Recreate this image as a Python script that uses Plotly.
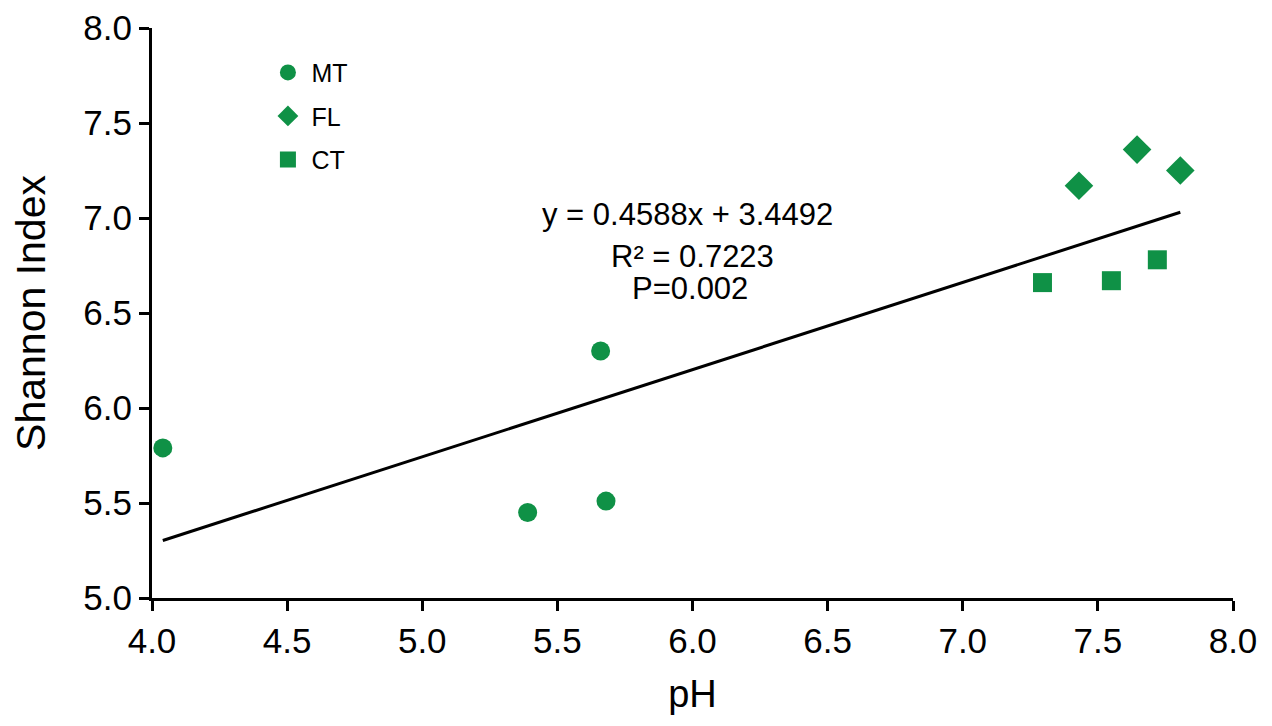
import numpy as np
import plotly.graph_objects as go

# pH / Shannon index per site type
mt_ph = [4.04, 5.66, 5.39, 5.68]
mt_shannon = [5.79, 6.30, 5.45, 5.51]
fl_ph = [7.43, 7.645, 7.805]
fl_shannon = [7.17, 7.36, 7.25]
ct_ph = [7.295, 7.55, 7.72]
ct_shannon = [6.66, 6.67, 6.78]

# regression reported on the figure
slope = 0.4588
intercept = 3.4492
r2_text = "R² = 0.7223"
p_text = "P=0.002"

green = "#0f9146"
font = "Liberation Sans, Arial, sans-serif"

fig = go.Figure()

fig.add_trace(go.Scatter(x=mt_ph, y=mt_shannon, mode="markers", name="MT", legendgroup="MT",
                         marker=dict(symbol="circle", size=19, color=green)))
fig.add_trace(go.Scatter(x=fl_ph, y=fl_shannon, mode="markers", name="FL", legendgroup="FL",
                         marker=dict(symbol="diamond", size=22, color=green)))
fig.add_trace(go.Scatter(x=ct_ph, y=ct_shannon, mode="markers", name="CT", legendgroup="CT",
                         marker=dict(symbol="square", size=19, color=green)))

all_ph = np.array(mt_ph + fl_ph + ct_ph)
line_x = np.array([all_ph.min(), all_ph.max()])
fig.add_trace(go.Scatter(x=line_x, y=slope * line_x + intercept, mode="lines",
                         line=dict(color="black", width=3), showlegend=False, hoverinfo="skip"))

eq_text = "y = %.4fx + %.4f" % (slope, intercept)
fig.add_annotation(x=5.98, y=7.02, text=eq_text, showarrow=False, font=dict(size=31))
fig.add_annotation(x=6.0, y=6.795, text=r2_text, showarrow=False, font=dict(size=31))
fig.add_annotation(x=5.99, y=6.63, text=p_text, showarrow=False, font=dict(size=31))

axis_style = dict(showline=True, linecolor="black", linewidth=3, ticks="outside", ticklen=10,
                  tickwidth=3, tickcolor="black", showgrid=False, zeroline=False,
                  tickfont=dict(size=35), tickformat=".1f", dtick=0.5)

fig.update_xaxes(range=[4, 8], title=dict(text="pH", font=dict(size=38), standoff=22), **axis_style)
fig.update_yaxes(range=[5, 8], title=dict(text="Shannon Index", font=dict(size=41), standoff=34), **axis_style)

# page body has an 8px margin, so the figure is a bit smaller than the window
fig.update_layout(
    width=1264, height=718,
    margin=dict(l=144, r=39, t=20, b=128, autoexpand=False),
    plot_bgcolor="white", paper_bgcolor="white",
    font=dict(family=font, color="black"),
    legend=dict(x=0.104, y=0.962, xanchor="left", yanchor="top", font=dict(size=25),
                tracegroupgap=8, itemwidth=37, bgcolor="rgba(0,0,0,0)"),
)

fig.write_html("out.html")
